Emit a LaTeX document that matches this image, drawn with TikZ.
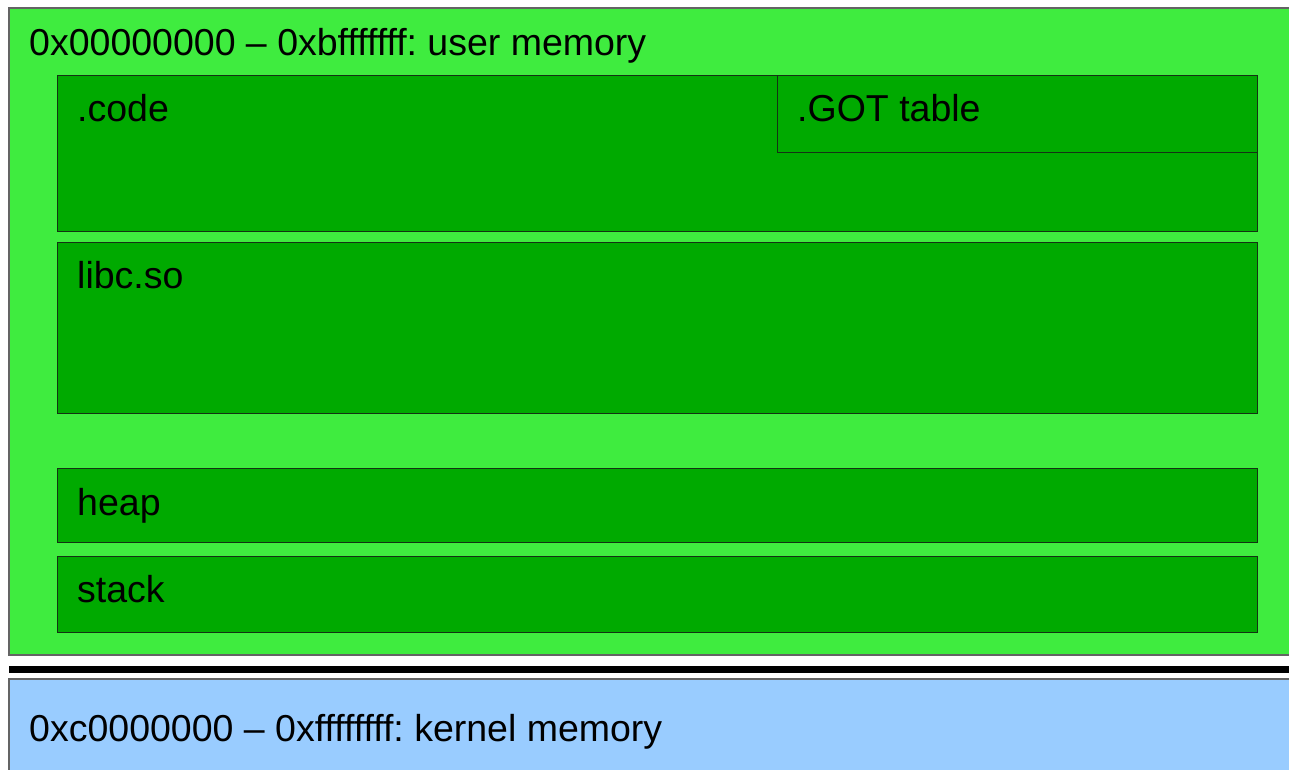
\documentclass[tikz,border=0pt]{standalone}
\usepackage{fontspec}
\setmainfont{Liberation Sans}
\frenchspacing
\definecolor{outergreen}{RGB}{63,236,63}
\definecolor{innergreen}{RGB}{0,170,0}
\definecolor{kernelblue}{RGB}{153,204,255}
\definecolor{bordergray}{RGB}{100,100,100}
\definecolor{innerborder}{RGB}{20,50,20}
\begin{document}
\begin{tikzpicture}[x=1pt,y=-1pt,
  region/.style={draw=bordergray,line width=1.2pt},
  segment/.style={draw=innerborder,fill=innergreen,line width=1pt},
  lbl/.style={anchor=base west,inner sep=0pt,font=\fontsize{37.5}{41}\selectfont}]
\useasboundingbox (0,0) rectangle (1289,769);
\fill[white] (0,0) rectangle (1289,769);
% user memory
\filldraw[region,fill=outergreen] (9,8) rectangle (1300,655);
\node[lbl] (usertxt) at (29,55) {0x00000000 – 0xbfffffff: user memory};
% segments
\filldraw[segment] (57,75) rectangle (1257,231);
\filldraw[segment] (777,75) rectangle (1257,152);
\filldraw[segment] (57,242) rectangle (1257,413);
\filldraw[segment] (57,468) rectangle (1257,542);
\filldraw[segment] (57,556) rectangle (1257,632);
\node[lbl] (code) at (77,121) {.code};
\node[lbl] (got) at (797,121) {.GOT table};
\node[lbl] (libc) at (77,288) {libc.so};
\node[lbl] (heap) at (77,515) {heap};
\node[lbl] (stack) at (77,602) {stack};
% separator
\fill[black] (9,666) rectangle (1300,673);
% kernel memory
\filldraw[region,fill=kernelblue] (9,679) rectangle (1300,790);
\node[lbl] (kernel) at (29,741) {0xc0000000 – 0xffffffff: kernel memory};
\end{tikzpicture}
\end{document}
